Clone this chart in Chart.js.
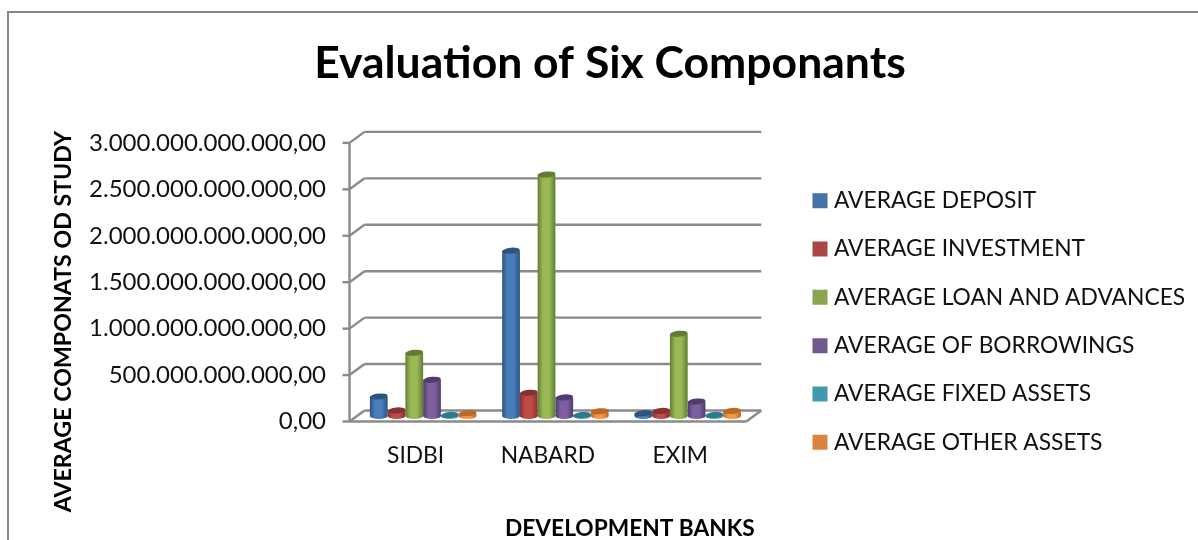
<!DOCTYPE html>
<html><head><meta charset="utf-8">
<style>
html,body{margin:0;padding:0;background:#fff;overflow:hidden}
#wrap{position:relative;width:1198px;height:540px}
#frame{position:absolute;left:7px;top:11px;right:0;bottom:-4px;border-left:2px solid #878787;border-top:2px solid #878787}
canvas{position:absolute;left:0;top:0}
</style>
<script src="https://cdn.jsdelivr.net/npm/chart.js@4/dist/chart.umd.min.js"></script>
</head><body><div id="wrap"><div id="frame"></div><canvas id="c" width="1198" height="540"></canvas></div>
<script>
const categories = ["SIDBI","NABARD","EXIM"];
const seriesNames = ["AVERAGE DEPOSIT","AVERAGE INVESTMENT","AVERAGE LOAN AND ADVANCES","AVERAGE OF BORROWINGS","AVERAGE FIXED ASSETS","AVERAGE OTHER ASSETS"];
const averageDeposit = [210e9,1780e9,30e9];
const averageInvestment = [60e9,250e9,55e9];
const averageLoan = [680e9,2600e9,885e9];
const averageBorrowings = [390e9,200e9,155e9];
const averageFixed = [10e9,10e9,10e9];
const averageOther = [30e9,50e9,55e9];
const yTickLabels = ["0,00","500.000.000.000,00","1.000.000.000.000,00","1.500.000.000.000,00","2.000.000.000.000,00","2.500.000.000.000,00","3.000.000.000.000,00"];
const legendColors = ["#4572A7","#AA4643","#89A54E","#71588F","#4198AF","#DB843D"];
const barMid = ["#4A7EBB","#BE4B48","#98B954","#7D60A0","#46AAC5","#F79646"];
const barDark = ["#2C5482","#843331","#637C35","#503C6E","#2A7A90","#B96A26"];
const allSeries = [averageDeposit,averageInvestment,averageLoan,averageBorrowings,averageFixed,averageOther];
const CAT_PCT = 0.805, FONT = "Lato";
const DX = 7.5, DY = 5.5;

function barFill(ctx, s){
  const sc = ctx.chart.scales.x;
  if(!sc || ctx.dataIndex===undefined) return barMid[s];
  const c = sc.getPixelForValue(ctx.dataIndex), bw = sc.width/categories.length*CAT_PCT/6;
  const l = c-3*bw+s*bw;
  const g = ctx.chart.ctx.createLinearGradient(l,0,l+bw,0);
  g.addColorStop(0,barDark[s]); g.addColorStop(.3,barMid[s]); g.addColorStop(.65,barMid[s]); g.addColorStop(1,barDark[s]);
  return g;
}
const LEG_PAD=25.5, LEG_BOX_LEFT=817.5, LEG_DY=51.5;
const TITLE_X=[74.5,2], TITLE_Y=[0,45];
const frame3d = {
  id:"frame3d",
  afterLayout(chart){
    const lg = chart.legend, dx=LEG_BOX_LEFT-(lg.left+LEG_PAD);
    lg.left+=dx; lg.right+=dx; lg.top+=LEG_DY; lg.bottom+=LEG_DY;
    const t = chart.titleBlock; t.left+=31.5; t.right+=31.5;
    const ctx = chart.ctx;
    const shift=(scale,dx,dy)=>{ if(scale._shifted) return; scale._shifted=true;
      const o = scale.drawTitle;
      scale.drawTitle=function(){ctx.save();ctx.translate(dx,dy);o.call(this);ctx.restore();};};
    shift(chart.scales.x,TITLE_X[0],TITLE_X[1]); shift(chart.scales.y,TITLE_Y[0],TITLE_Y[1]);
  },
  beforeDatasetsDraw(chart){
    const {ctx,chartArea:a,scales:{y}}=chart;
    ctx.save(); ctx.strokeStyle="#8a8a8a"; ctx.lineWidth=2.4; ctx.lineCap="butt";
    const L=(x1,y1,x2,y2)=>{ctx.beginPath();ctx.moveTo(x1,y1);ctx.lineTo(x2,y2);ctx.stroke();};
    y.ticks.forEach(t=>{
      const p=y.getPixelForValue(t.value);
      L(a.left+DX,p-DY,a.right+DX,p-DY);
      L(a.left-DX,p+DY,a.left+DX,p-DY);
      L(a.left-DX-7,p+DY,a.left-DX,p+DY);
    });
    const p0=y.getPixelForValue(0), pm=y.getPixelForValue(3e12);
    L(a.left-DX,pm+DY,a.left-DX,p0+DY);
    L(a.left-DX,p0+DY,a.right-DX,p0+DY);
    L(a.right-DX,p0+DY,a.right+DX,p0-DY);
    ctx.restore();
  },
  afterDatasetsDraw(chart){
    const ctx=chart.ctx;
    chart.data.datasets.forEach((d,s)=>{
      chart.getDatasetMeta(s).data.forEach(el=>{
        const rx=el.width/2, ry=3;
        ctx.save();
        const g=ctx.createLinearGradient(el.x-rx,0,el.x+rx,0);
        g.addColorStop(0,barDark[s]);g.addColorStop(.3,barMid[s]);g.addColorStop(.65,barMid[s]);g.addColorStop(1,barDark[s]);
        ctx.fillStyle=g; ctx.beginPath(); ctx.ellipse(el.x,el.base,rx,ry,0,0,Math.PI*2); ctx.fill();
        ctx.fillStyle=barDark[s]; ctx.beginPath(); ctx.ellipse(el.x,el.y,rx,ry,-0.1,0,Math.PI*2); ctx.fill();
        ctx.restore();
      });
    });
  }
};
new Chart(document.getElementById("c"),{
  type:"bar",
  data:{labels:categories,datasets:allSeries.map((v,s)=>({label:seriesNames[s],data:v,
    backgroundColor:(ctx)=>barFill(ctx,s),borderWidth:0,categoryPercentage:CAT_PCT,barPercentage:1}))},
  options:{
    responsive:false,animation:false,
    layout:{padding:{left:0,right:41,top:0,bottom:0}},
    plugins:{
      tooltip:{enabled:false},
      title:{display:true,text:"Evaluation of Six Componants",color:"#000",position:"top",
        font:{family:FONT,size:44.5,weight:"bold"},padding:{top:37,bottom:47}},
      legend:{position:"right",align:"center",maxWidth:446,
        labels:{color:"#111",font:{family:FONT,size:22.8},padding:LEG_PAD,boxWidth:5,boxHeight:5,
          generateLabels(){return seriesNames.map((n,i)=>({text:n,fillStyle:legendColors[i],strokeStyle:legendColors[i],lineWidth:10,datasetIndex:i,fontColor:"#111"}));}}}
    },
    scales:{
      x:{grid:{display:false,drawTicks:false},border:{display:false},
        ticks:{color:"#111",font:{family:FONT,size:22.8},padding:26,labelOffset:-7.5,maxRotation:0},
        title:{display:true,text:"DEVELOPMENT BANKS",color:"#000",font:{family:FONT,size:22.7,weight:"bold"},padding:{top:10,bottom:0}},
        afterFit(s){s.height=124;}},
      y:{min:0,max:3e12,grid:{display:false,drawTicks:false},border:{display:false},
        ticks:{stepSize:5e11,color:"#111",font:{family:FONT,size:24},padding:31,labelOffset:5.5,
          callback:(v)=>yTickLabels[Math.round(v/5e11)]},
        title:{display:true,text:"AVERAGE COMPONATS OD STUDY",color:"#000",font:{family:FONT,size:23.2,weight:"bold"},padding:{top:50,bottom:0}},
        afterFit(s){s.width=357;}}
    }
  },
  plugins:[frame3d]
});
</script></body></html>
